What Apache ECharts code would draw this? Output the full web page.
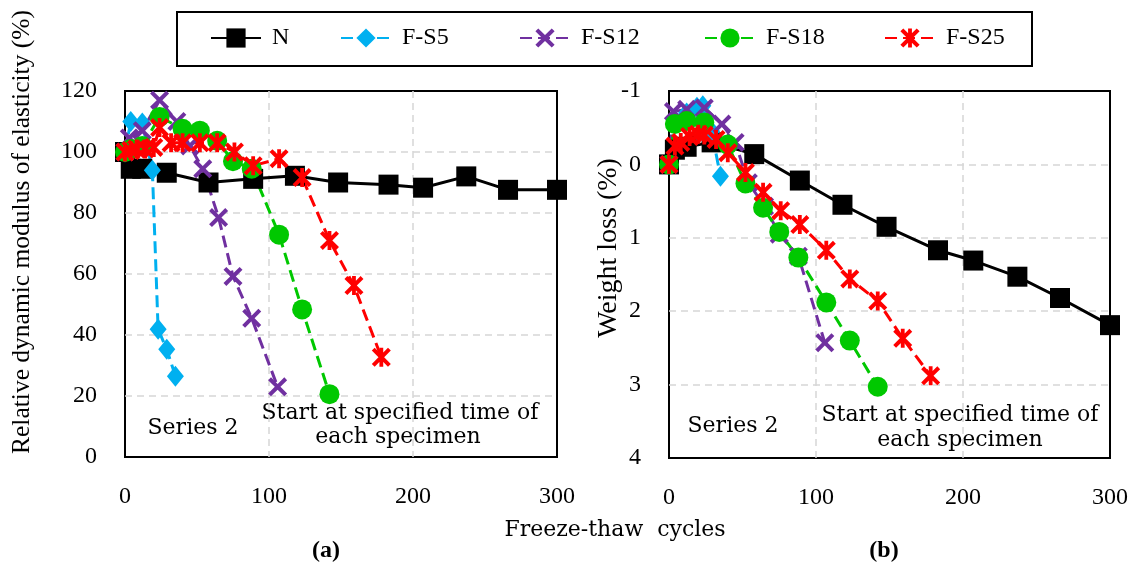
<!DOCTYPE html>
<html>
<head>
<meta charset="utf-8">
<script src="https://cdn.jsdelivr.net/npm/echarts@6/dist/echarts.min.js"></script>
<style>
  html, body { margin: 0; background: #fff; }
  #chart { width: 1134px; height: 568px; }
</style>
</head>
<body>
<div id="chart"></div>
<script>
// freeze-thaw cycles (x) and readings for each specimen
const cyclesN = [0, 4, 12, 29, 58, 89, 118, 148, 183, 207, 237, 266, 300];
const modulusN = [100, 94.5, 94.5, 93.2, 90, 91.2, 92.2, 90, 89.3, 88.3, 92, 87.6, 87.6];
const weightN = [0, -0.2, -0.24, -0.3, -0.14, 0.22, 0.55, 0.85, 1.17, 1.31, 1.53, 1.82, 2.19];

const cyclesS5 = [0, 4, 12, 19, 23, 29, 35];
const modulusS5 = [100, 110, 109.5, 94, 41.9, 35.3, 26.5];
const weightS5 = [0, -0.6, -0.7, -0.78, -0.8, -0.45, 0.16];

const cyclesS12 = [0, 3, 12, 24, 36, 45, 54, 65, 75, 88, 106];
const modulusS12 = [100, 104.6, 107, 117, 110, 102, 94.5, 78.5, 59.2, 45.5, 23];
const weightS12 = [0, -0.72, -0.75, -0.77, -0.55, -0.3, 0.25, 0.57, 0.95, 1.25, 2.43];

const cyclesS18 = [0, 4, 12, 24, 40, 52, 64, 75, 88, 107, 123, 142];
const modulusS18 = [100, 101, 102, 111.5, 107.6, 107, 103.7, 97, 94.5, 72.9, 48.4, 20.6];
const weightS18 = [0, -0.55, -0.59, -0.57, -0.27, 0.26, 0.59, 0.92, 1.27, 1.88, 2.4, 3.03];

const cyclesS25 = [0, 4, 8, 14, 20, 24, 32, 40, 52, 64, 76, 89, 107, 123, 142, 159, 178];
const modulusS25 = [100, 100.5, 101, 101, 101.5, 108, 103, 103, 103, 103, 100, 95.5, 97.8, 91.6, 71, 56.2, 32.7];
const weightS25 = [0, -0.25, -0.3, -0.38, -0.41, -0.4, -0.34, -0.16, 0.11, 0.38, 0.63, 0.82, 1.17, 1.56, 1.86, 2.37, 2.88];

const xTicks = [0, 100, 200, 300];

const FONT = "'Liberation Serif', 'Times New Roman', serif";
const WIDE = "'DejaVu Serif', serif";
const CROSS = "path://M1.5 0 L5 3.5 L8.5 0 L10 1.5 L6.5 5 L10 8.5 L8.5 10 L5 6.5 L1.5 10 L0 8.5 L3.5 5 L0 1.5 Z";
const STAR = "path://M1.5 0 L5 3.5 L8.5 0 L10 1.5 L6.5 5 L10 8.5 L8.5 10 L5 6.5 L1.5 10 L0 8.5 L3.5 5 L0 1.5 Z M4 0 L6 0 L6 10 L4 10 Z";
const DASH = [12, 6];

const specimens = [
  { name: "N", x: cyclesN, a: modulusN, b: weightN, color: "#000000", symbol: "rect", size: 20, dash: "solid" },
  { name: "F-S5", x: cyclesS5, a: modulusS5, b: weightS5, color: "#00b0f0", symbol: "diamond", size: [17, 21], dash: DASH },
  { name: "F-S12", x: cyclesS12, a: modulusS12, b: weightS12, color: "#7030a0", symbol: CROSS, size: 19, dash: DASH },
  { name: "F-S18", x: cyclesS18, a: modulusS18, b: weightS18, color: "#00c800", symbol: "circle", size: 20, dash: DASH },
  { name: "F-S25", x: cyclesS25, a: modulusS25, b: weightS25, color: "#ff0000", symbol: STAR, size: 19, dash: DASH },
];

const zip = (xs, ys) => xs.map((x, i) => [x, ys[i]]);

const series = [];
specimens.forEach((s) => {
  [0, 1].forEach((k) => {
    series.push({
      name: s.name,
      type: "line",
      xAxisIndex: k,
      yAxisIndex: k,
      symbol: s.symbol,
      symbolSize: s.size,
      showAllSymbol: true,
      lineStyle: { color: s.color, width: 3, type: s.dash },
      itemStyle: { color: s.color },
      emphasis: { disabled: true },
      data: zip(s.x, k === 0 ? s.a : s.b),
    });
  });
});

const legendLeft = [210, 340, 519, 704, 884];
const legends = specimens.map((s, i) => ({
  data: [s.name],
  left: legendLeft[i],
  top: 26,
  padding: 0,
  itemWidth: 50,
  itemHeight: 24,
  selectedMode: false,
  textStyle: { fontFamily: FONT, fontSize: 24, color: "#000", padding: [0, 0, 0, 6] },
}));

const gridLine = {
  show: true, showMinLine: false, showMaxLine: false,
  lineStyle: { color: "#d6d6d6", width: 1.5, type: [7, 5] },
};
const tickLabel = { fontFamily: FONT, fontSize: 24, color: "#000" };

const text = (str, x, y, extra) => ({
  type: "text",
  x, y,
  style: Object.assign({ text: str, font: "22px " + WIDE, fill: "#000", align: "center", verticalAlign: "middle" }, extra || {}),
});

const chart = echarts.init(document.getElementById("chart"));
chart.setOption({
  animation: false,
  backgroundColor: "#fff",
  legend: legends,
  grid: [
    { left: 125, top: 91, width: 432, height: 366, show: true, borderColor: "#000", borderWidth: 2, backgroundColor: "transparent" },
    { left: 669, top: 91, width: 441, height: 367, show: true, borderColor: "#000", borderWidth: 2, backgroundColor: "transparent" },
  ],
  xAxis: [0, 1].map((k) => ({
    type: "value",
    gridIndex: k,
    min: xTicks[0],
    max: xTicks[xTicks.length - 1],
    interval: 100,
    axisLine: { show: false },
    axisTick: { show: false },
    axisLabel: Object.assign({ margin: 28 }, tickLabel),
    splitLine: gridLine,
  })),
  yAxis: [
    {
      type: "value", gridIndex: 0, min: 0, max: 120, interval: 20,
      axisLine: { show: false }, axisTick: { show: false },
      axisLabel: Object.assign({ margin: 28 }, tickLabel),
      splitLine: gridLine,
    },
    {
      type: "value", gridIndex: 1, min: -1, max: 4, interval: 1, inverse: true,
      axisLine: { show: false }, axisTick: { show: false },
      axisLabel: Object.assign({ margin: 28 }, tickLabel),
      splitLine: gridLine,
    },
  ],
  graphic: [
    { type: "rect", shape: { x: 177, y: 12, width: 855, height: 54 }, style: { fill: "none", stroke: "#000", lineWidth: 2 } },
    Object.assign(text("Relative dynamic modulus of elasticity (%)", 22, 232, { font: "25.5px " + FONT }), { rotation: Math.PI / 2 }),
    Object.assign(text("Weight loss (%)", 609, 248, { font: "28px " + FONT }), { rotation: Math.PI / 2 }),
    text("Freeze-thaw  cycles", 615, 530),
    text("(a)", 326, 551, { font: "bold 24px " + FONT }),
    text("(b)", 884, 551, { font: "bold 24px " + FONT }),
    text("Series 2", 193, 428),
    text("Start at specified time of", 400, 413),
    text("each specimen", 398, 437),
    text("Series 2", 733, 426),
    text("Start at specified time of", 960, 415),
    text("each specimen", 960, 440),
  ],
  series: series,
});
</script>
</body>
</html>
